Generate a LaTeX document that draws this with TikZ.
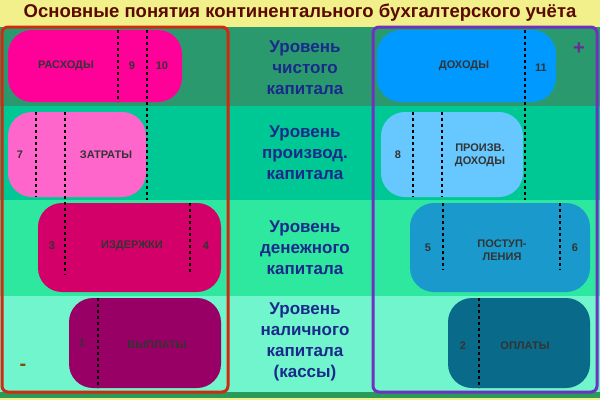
\documentclass[tikz,border=0pt]{standalone}
\usepackage{fontspec}
\setmainfont{Liberation Sans}
\definecolor{midblue}{HTML}{1A2A8A}
\definecolor{bgA}{HTML}{2A9A6E}
\definecolor{bgB}{HTML}{00C894}
\definecolor{bgC}{HTML}{2EE8A0}
\definecolor{bgD}{HTML}{70F5CC}
\definecolor{bgY}{HTML}{F2F08A}
\definecolor{bgS}{HTML}{2A9A5A}
\definecolor{titlec}{HTML}{5A0A00}
\definecolor{cRas}{HTML}{FF0099}
\definecolor{cZat}{HTML}{FF66CC}
\definecolor{cIzd}{HTML}{D4006A}
\definecolor{cVyp}{HTML}{990066}
\definecolor{cDoh}{HTML}{0099FF}
\definecolor{cPro}{HTML}{66C8FF}
\definecolor{cPos}{HTML}{1A9ACC}
\definecolor{cOpl}{HTML}{0A6A8A}
\definecolor{cPlus}{HTML}{6A2A9A}
\definecolor{cMinus}{HTML}{8A4A00}
\definecolor{cRed}{HTML}{D02A10}
\definecolor{cPur}{HTML}{7030C0}
\begin{document}
\begin{tikzpicture}[x=1pt,y=-1pt,
  blob/.style={draw=none,rounded corners=24pt},
  dots/.style={line width=2.6pt,dash pattern=on 3pt off 3pt},
  lab/.style={font=\fontsize{11}{13}\selectfont\bfseries,text=black!80,align=center},
  mid/.style={font=\fontsize{17}{21}\selectfont\bfseries,text=midblue,align=center}]
\useasboundingbox (0,0) rectangle (600,400);
\fill[bgY] (0,0) rectangle (600,400);
\fill[bgS] (0,392) rectangle (600,398);
\fill[bgA] (0,27) rectangle (600,106);
\fill[bgB] (0,106) rectangle (600,200);
\fill[bgC] (0,200) rectangle (600,296);
\fill[bgD] (0,296) rectangle (600,392);
\node[font=\fontsize{18.5}{20}\selectfont\bfseries,text=titlec] (title) at (300,13) {Основные понятия континентального бухгалтерского учёта};
% shapes
\fill[blob,cRas] (8,30) rectangle (182,102);
\fill[blob,cZat] (8,112) rectangle (146,197);
\fill[blob,cIzd] (38,203) rectangle (221,292);
\fill[blob,cVyp] (69,298) rectangle (221,388);
\fill[blob,cDoh] (377,30) rectangle (556,102);
\fill[blob,cPro] (381,112) rectangle (523,197);
\fill[blob,cPos] (410,203) rectangle (590,292);
\fill[blob,cOpl] (448,298) rectangle (590,388);
% dotted lines
\foreach \x/\a/\b in {118/30/102,147/30/200,36/112/197,65/112/275,190/203/275,98/298/388,413/112/197,442/112/197,443/203/270,560/203/270,479/298/388,525/30/200}
  \draw[dots] (\x,\a) -- (\x,\b);
% labels
\node[lab] (ras) at (66,66) {РАСХОДЫ};
\node[lab] (n9) at (132,66) {9};
\node[lab] (n10) at (162,66) {10};
\node[lab] (n7) at (20,155) {7};
\node[lab] (zat) at (106,155) {ЗАТРАТЫ};
\node[lab] (n3) at (52,246) {3};
\node[lab] (izd) at (132,246) {ИЗДЕРЖКИ};
\node[lab] (n4) at (206,246) {4};
\node[lab] (n1) at (82,343) {1};
\node[lab] (vyp) at (157,345) {ВЫПЛАТЫ};
\node[lab] (doh) at (464,66) {ДОХОДЫ};
\node[lab] (n11) at (541,68) {11};
\node[lab] (n8) at (398,155) {8};
\node[lab] (pro) at (480,155) {ПРОИЗВ.\\ДОХОДЫ};
\node[lab] (n5) at (428,248) {5};
\node[lab] (pos) at (502,250) {ПОСТУП-\\ЛЕНИЯ};
\node[lab] (n6) at (575,248) {6};
\node[lab] (n2) at (463,346) {2};
\node[lab] (opl) at (525,346) {ОПЛАТЫ};
\node[font=\fontsize{20}{20}\selectfont\bfseries,text=cPlus] (plus) at (579,49) {+};
\node[font=\fontsize{20}{20}\selectfont\bfseries,text=cMinus] (minus) at (23,367) {-};
% middle text
\node[mid] (l1) at (305,68) {Уровень\\чистого\\капитала};
\node[mid] (l2) at (305,153) {Уровень\\производ.\\капитала};
\node[mid] (l3) at (305,248) {Уровень\\денежного\\капитала};
\node[mid] (l4) at (305,342) {Уровень\\наличного\\капитала\\(кассы)};
% frames
\draw[cRed,line width=3pt,rounded corners=6pt] (2,27) rectangle (228,392);
\draw[cPur,line width=3pt,rounded corners=6pt] (373,27) rectangle (597,392);
\end{tikzpicture}
\end{document}
